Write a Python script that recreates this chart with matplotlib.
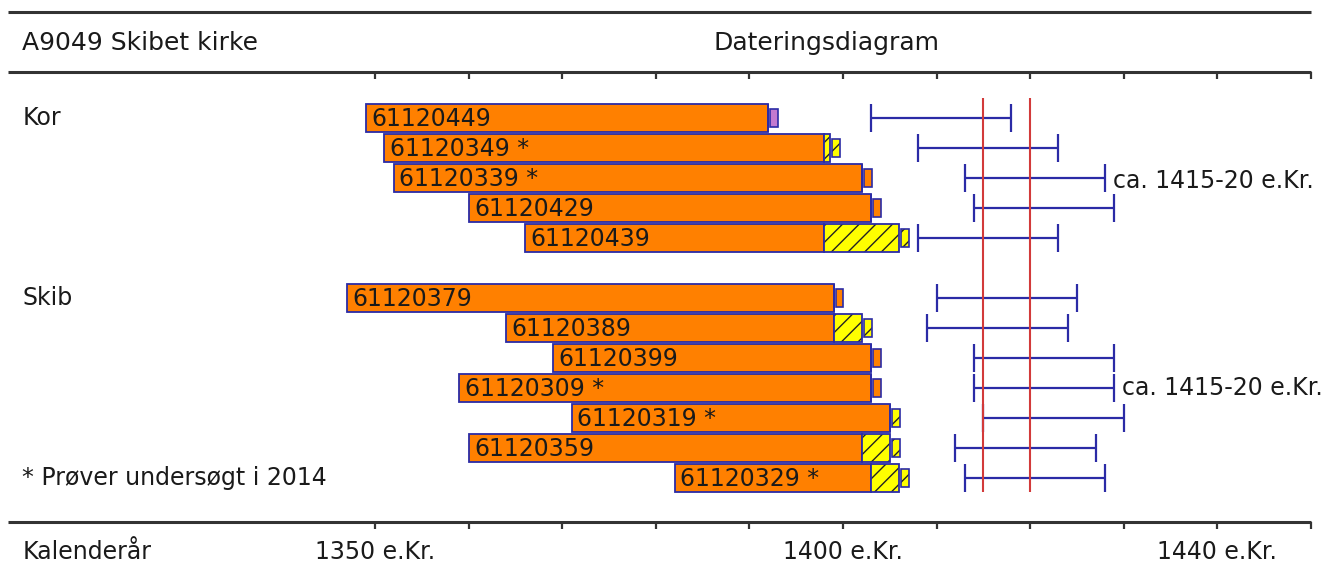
import matplotlib.pyplot as plt
import numpy as np

# Kor
kor_ids = ["61120449", "61120349 *", "61120339 *", "61120429", "61120439"]
kor_start = [1349, 1351, 1352, 1360, 1366]
kor_heart_end = [1392, 1398, 1402, 1403, 1398]
kor_sap_end = [1392, 1398.6, 1402, 1403, 1406]
kor_box = ["#c27ad0", "#ffff00", "#ff8000", "#ff8000", "#ffff00"]
kor_fell_lo = [1403, 1408, 1413, 1414, 1408]
kor_fell_hi = [1418, 1423, 1428, 1429, 1423]

# Skib
skib_ids = ["61120379", "61120389", "61120399", "61120309 *",
            "61120319 *", "61120359", "61120329 *"]
skib_start = [1347, 1364, 1369, 1359, 1371, 1360, 1382]
skib_heart_end = [1399, 1399, 1403, 1403, 1405, 1402, 1403]
skib_sap_end = [1399, 1402, 1403, 1403, 1405, 1405, 1406]
skib_box = ["#ff8000", "#ffff00", "#ff8000", "#ff8000", "#ffff00", "#ffff00", "#ffff00"]
skib_fell_lo = [1410, 1409, 1414, 1414, 1415, 1412, 1413]
skib_fell_hi = [1425, 1424, 1429, 1429, 1430, 1427, 1428]

felling_range = [1415, 1420]
tick_years = np.arange(1350, 1451, 10)
label_years = [1350, 1400, 1440]

ORANGE = "#ff8000"
YELLOW = "#ffff00"
NAVY = "#2b2ba6"
RED = "#d23a3a"
INK = "#1a1a1a"
FS = 17

plt.rcParams["font.family"] = ["DejaVu Sans"]

fig = plt.figure(figsize=(13.26, 5.77), dpi=100)
ax = fig.add_axes([0, 0, 1, 1])
ax.axis("off")
# x in years (9.36 px/year, 1350 at px 375), y in rows (30 px/row, row 0 at px 118)
ax.set_xlim(1350 - 375 / 9.36, 1350 + (1326 - 375) / 9.36)
ax.set_ylim((577 - 118) / 30, -118 / 30)

x_left = 1310.8
x_text = 1312.3


def draw_group(rows, ids, start, heart_end, sap_end, box, lo, hi):
    rows = np.asarray(rows, dtype=float)
    start = np.asarray(start, dtype=float)
    heart_end = np.asarray(heart_end, dtype=float)
    sap_end = np.asarray(sap_end, dtype=float)
    # heartwood
    ax.barh(rows, heart_end - start, left=start, height=0.95, color=ORANGE,
            edgecolor=NAVY, linewidth=1.3, zorder=2)
    # sapwood
    ax.barh(rows, sap_end - heart_end, left=heart_end, height=0.95, color=YELLOW,
            edgecolor="#222222", hatch="//", linewidth=0, zorder=2)
    ax.barh(rows, sap_end - heart_end, left=heart_end, height=0.95, fill=False,
            edgecolor=NAVY, linewidth=1.3, zorder=3)
    # outer ring box
    for r, e, c in zip(rows, sap_end, box):
        hatch = "//" if c == YELLOW else None
        ax.barh(r, 0.85, left=e + 0.2, height=0.6, color=c, edgecolor="#222222",
                hatch=hatch, linewidth=0, zorder=2)
        ax.barh(r, 0.85, left=e + 0.2, height=0.6, fill=False,
                edgecolor=NAVY, linewidth=1.2, zorder=3)
    for r, s, t in zip(rows, start, ids):
        ax.text(s + 0.6, r + 0.05, t, fontsize=FS, color=INK, va="center",
                ha="left", zorder=4)
    lo = np.asarray(lo, dtype=float)
    hi = np.asarray(hi, dtype=float)
    ax.errorbar((lo + hi) / 2, rows, xerr=(hi - lo) / 2, fmt="none", ecolor=NAVY,
                elinewidth=1.6, capsize=10, capthick=1.6, zorder=2)


kor_rows = np.arange(len(kor_ids))
skib_rows = np.arange(len(skib_ids)) + len(kor_ids) + 1

draw_group(kor_rows, kor_ids, kor_start, kor_heart_end, kor_sap_end, kor_box,
           kor_fell_lo, kor_fell_hi)
draw_group(skib_rows, skib_ids, skib_start, skib_heart_end, skib_sap_end, skib_box,
           skib_fell_lo, skib_fell_hi)

ax.vlines(felling_range, -0.67, skib_rows[-1] + 0.47, color=RED, linewidth=1.5, zorder=5)

ax.text(kor_fell_hi[2] + 0.8, kor_rows[2] + 0.1, "ca. 1415-20 e.Kr.", fontsize=FS,
        color=INK, va="center", ha="left")
ax.text(skib_fell_hi[3] + 0.8, skib_rows[3] + 0.0, "ca. 1415-20 e.Kr.", fontsize=FS,
        color=INK, va="center", ha="left")

# frame lines and ticks
line_kw = dict(color="#333333", linewidth=2.2)
y_top, y_head, y_bot = -3.53, -1.53, 13.47
ax.hlines([y_top, y_head, y_bot], x_left, 1450, **line_kw)
ax.vlines(tick_years, y_head, y_head + 0.24, color="#333333", linewidth=1.6)
ax.vlines(tick_years, y_bot, y_bot + 0.24, color="#333333", linewidth=1.6)

ax.text(x_text, -2.5, "A9049 Skibet kirke", fontsize=18, color=INK, va="center")
ax.text(1398.2, -2.5, "Dateringsdiagram", fontsize=18, color=INK, va="center",
        ha="center")
ax.text(x_text, kor_rows[0], "Kor", fontsize=FS, color=INK, va="center")
ax.text(x_text, skib_rows[0], "Skib", fontsize=FS, color=INK, va="center")
ax.text(x_text, skib_rows[-1], "* Prøver undersøgt i 2014", fontsize=FS, color=INK,
        va="center")
ax.text(x_text, 14.47, "Kalenderår", fontsize=FS, color=INK, va="center")
for yr in label_years:
    ax.text(yr, 14.47, f"{yr} e.Kr.", fontsize=FS, color=INK, va="center", ha="center")

fig.savefig("out.png", dpi=100)
